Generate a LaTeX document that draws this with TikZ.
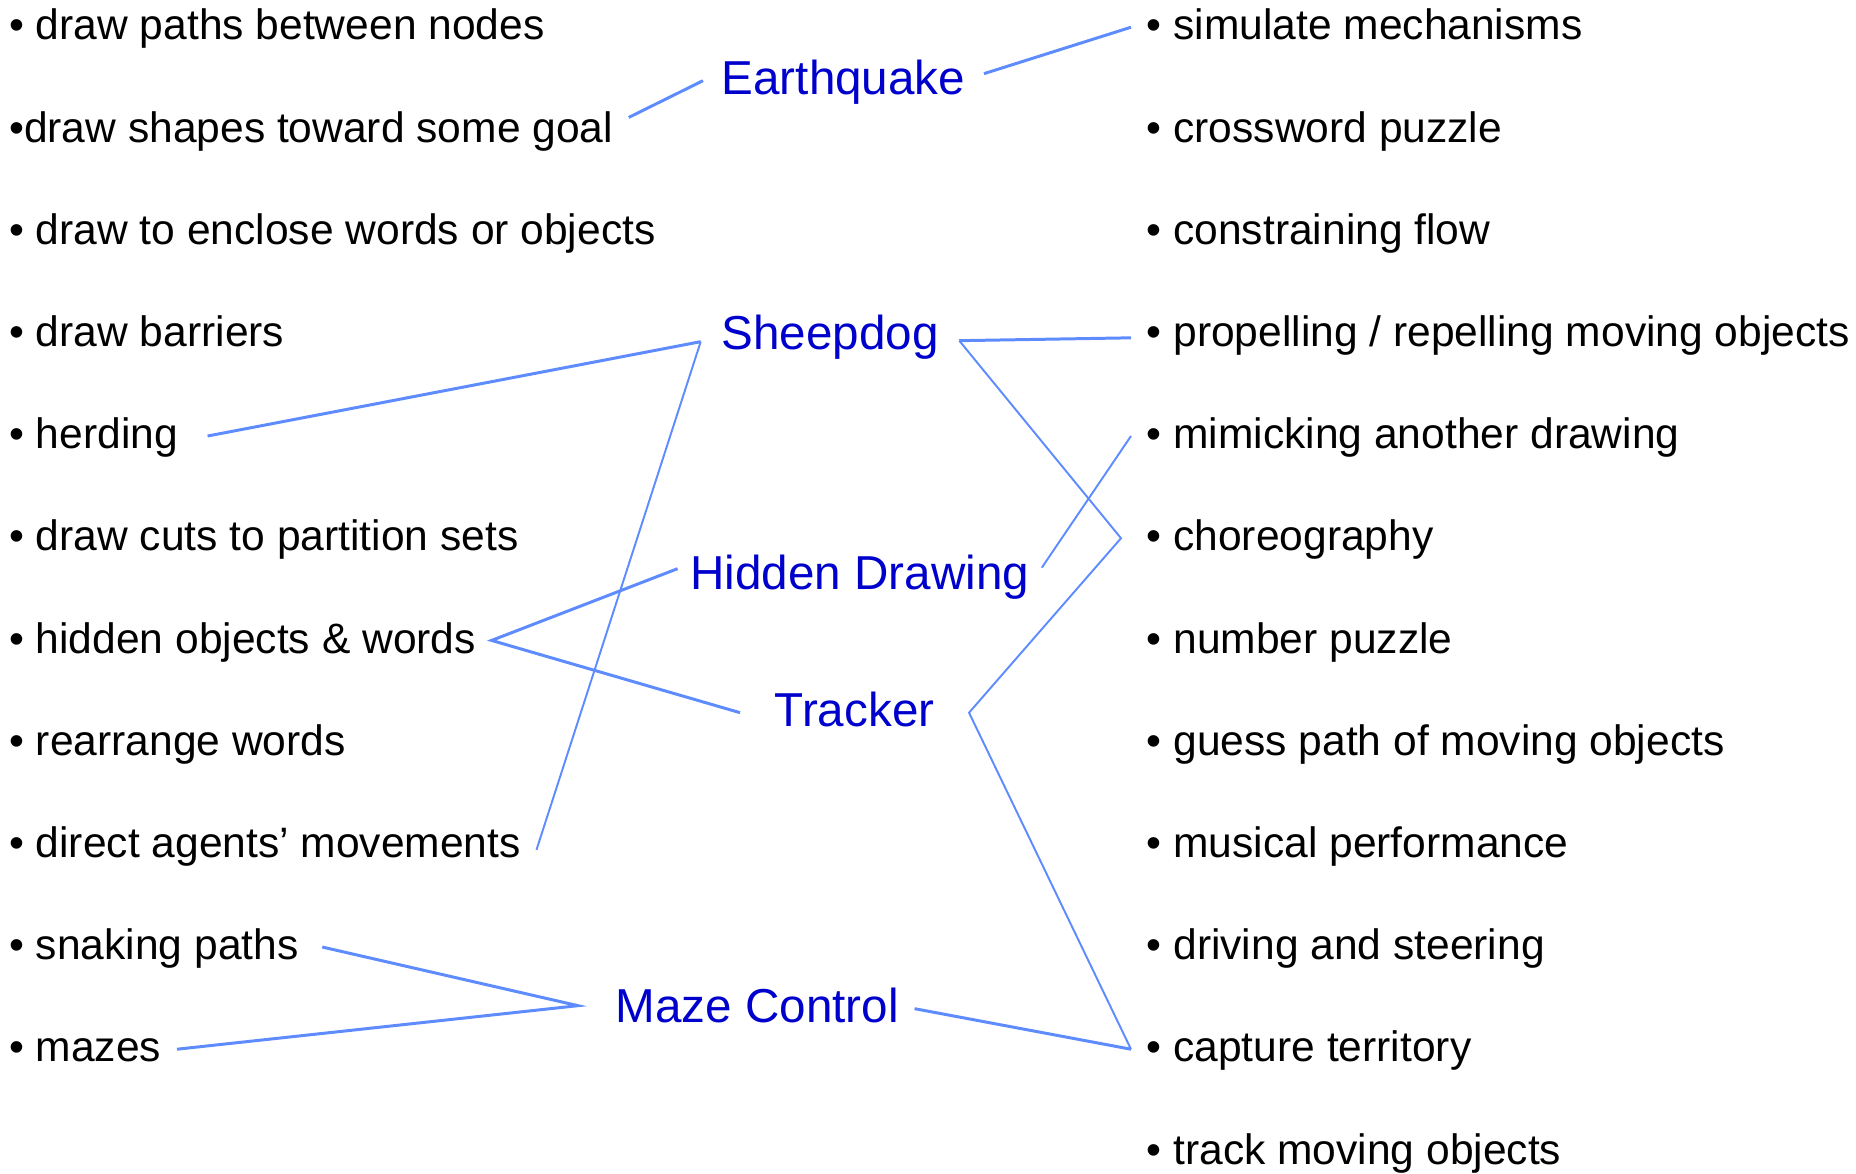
\documentclass[tikz,border=0pt]{standalone}
\usepackage{fontspec}
\setmainfont{Liberation Sans}
\definecolor{topicblue}{RGB}{0,0,204}
\definecolor{linkblue}{RGB}{94,140,255}
\begin{document}
\begin{tikzpicture}[x=0.01cm,y=-0.01cm,
  item/.style={anchor=base west,inner xsep=.15cm,inner ysep=0pt,text height=.255cm,text depth=0pt,font=\fontsize{12.1}{14}\selectfont},
  topic/.style={anchor=base west,inner xsep=.18cm,inner ysep=0pt,text height=.286cm,text depth=0pt,text=topicblue,font=\fontsize{13.54}{16}\selectfont},
  wire/.style={draw=linkblue,line width=.85pt},
  thinwire/.style={draw=linkblue,line width=.55pt}]
              \useasboundingbox (0,0) rectangle (1856,1174);
              % left column
              \node[item] (l1) at (-6.5,40) {• draw paths between nodes};
              \node[item] (l2) at (-6.5,142.2) {•draw shapes toward some goal};
              \node[item] (l3) at (-6.5,244.4) {• draw to enclose words or objects};
              \node[item] (l4) at (-6.5,346.6) {• draw barriers};
              \node[item] (l5) at (-6.5,448.8) {• herding};
              \node[item] (l6) at (-6.5,551) {• draw cuts to partition sets};
              \node[item] (l7) at (-6.5,653.2) {• hidden objects \& words};
              \node[item] (l8) at (-6.5,755.4) {• rearrange words};
              \node[item] (l9) at (-6.5,857.6) {• direct agents’ movements};
              \node[item] (l10) at (-6.5,959.8) {• snaking paths};
              \node[item] (l11) at (-6.5,1062) {• mazes};

              % right column
              \node[item] (r1) at (1131,40) {• simulate mechanisms};
              \node[item] (r2) at (1131,142.2) {• crossword puzzle};
              \node[item] (r3) at (1131,244.4) {• constraining flow};
              \node[item] (r4) at (1131,346.6) {• propelling / repelling moving objects};
              \node[item] (r5) at (1131,448.8) {• mimicking another drawing};
              \node[item] (r6) at (1131,551) {• choreography};
              \node[item] (r7) at (1131,653.2) {• number puzzle};
              \node[item] (r8) at (1131,755.4) {• guess path of moving objects};
              \node[item] (r9) at (1131,857.6) {• musical performance};
              \node[item] (r10) at (1131,959.8) {• driving and steering};
              \node[item] (r11) at (1131,1062) {• capture territory};
              \node[item] (r12) at (1131,1164.2) {• track moving objects};

              % games
              \node[topic] (quake) at (703,95) {Earthquake};
              \node[topic,inner xsep=.2cm] (sheep) at (700.7,350) {Sheepdog};
              \node[topic,inner xsep=.12cm] (hidden) at (677.6,590) {Hidden Drawing};
              \node[topic,inner xsep=.34cm] (track) at (740,727) {Tracker};
              \node[topic,inner xsep=.15cm] (maze) at (600,1023) {Maze Control};

              \draw[wire] ([yshift=.12cm]l2.east) -- (quake.west);
              \draw[wire] ([yshift=.07cm]quake.east) -- (r1.west);
              \draw[wire] ([xshift=.14cm]l5.east) -- ([yshift=-.06cm]sheep.west);
              \draw[thinwire] ([yshift=-.06cm]sheep.west) -- ([yshift=-.05cm]l9.east);
              \draw[wire] ([yshift=-.05cm]sheep.east) -- ([yshift=-.04cm]r4.west);
              \draw[thinwire] ([yshift=-.05cm]sheep.east) -- ([xshift=-.1cm]r6.west) -- (track.east) -- (r11.west);
              \draw[thinwire] ([yshift=.08cm]hidden.east) -- (r5.west);
              \draw[wire] ([yshift=.07cm]hidden.west) -- (l7.east) -- (track.west);
              \draw[wire] ([xshift=.08cm]l10.east) -- ([xshift=-.22cm,yshift=.03cm]maze.west) -- (l11.east);
              \draw[wire] (maze.east) -- (r11.west);
            \end{tikzpicture}
\end{document}
